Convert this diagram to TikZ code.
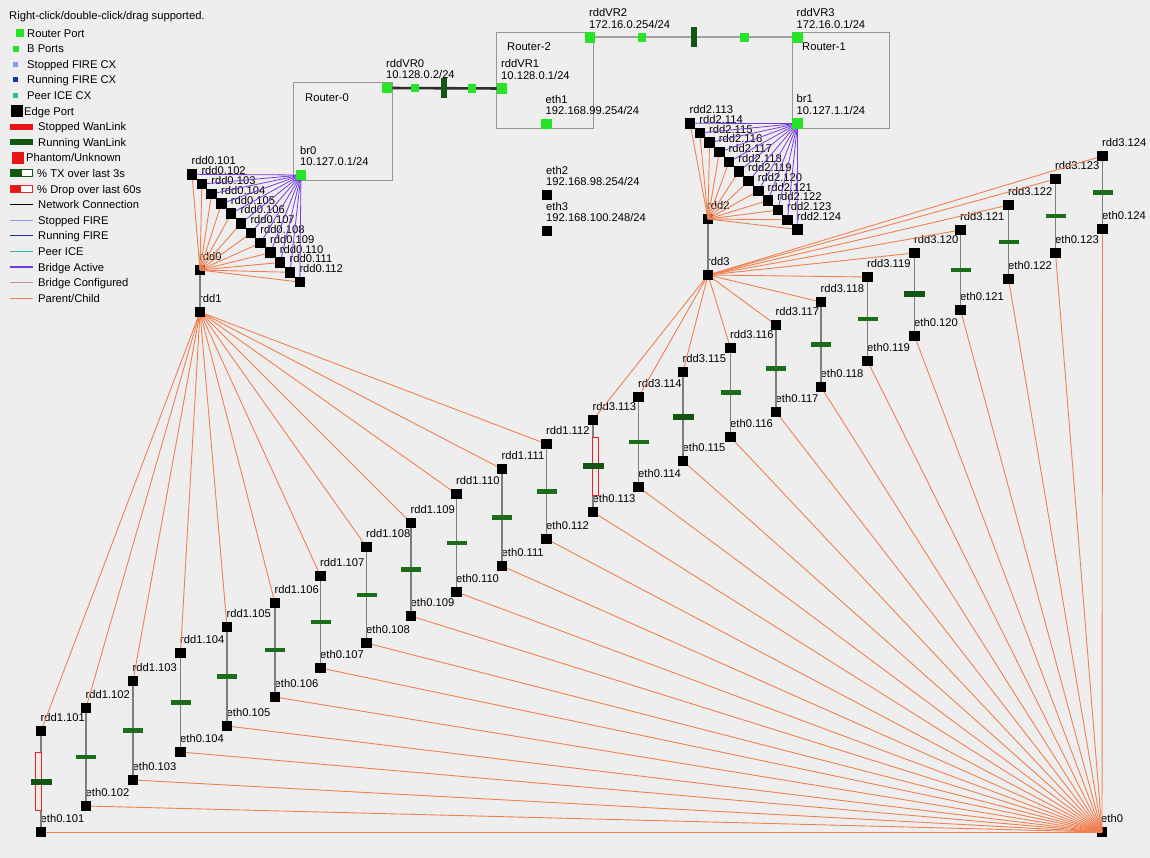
\documentclass[tikz,border=0pt]{standalone}
\usepackage{fontspec}
\setmainfont{Liberation Sans}
\pgfdeclarelayer{bottom}
\pgfdeclarelayer{lines}
\pgfsetlayers{bottom,lines,main}
\definecolor{bgc}{RGB}{238,238,238}
\definecolor{rportc}{RGB}{40,228,40}
\definecolor{wgreen}{RGB}{28,108,28}
\definecolor{wgreend}{RGB}{20,85,20}
\definecolor{pcorange}{RGB}{240,128,80}
\definecolor{bridgeP}{RGB}{115,60,225}
\definecolor{boxgray}{RGB}{150,150,150}
\definecolor{linkgray}{RGB}{125,125,125}
\definecolor{dropred}{RGB}{220,40,40}
\definecolor{stopfire}{RGB}{130,160,235}
\definecolor{runfire}{RGB}{20,50,170}
\definecolor{peerice}{RGB}{40,190,160}
\definecolor{bridgeC}{RGB}{200,140,170}
\definecolor{stopwan}{RGB}{235,20,20}
\newcommand\twolbl[5]{\node[lbl] (#1a) at (#2-1,#3-20.8) {#4}; \node[lbl] (#1b) at (#2-1,#3-9.3) {#5};}
\begin{document}
\begin{tikzpicture}[x=1pt,y=-1pt,
  font=\fontsize{11.2}{13}\selectfont,
  edge/.style={fill=black,inner sep=0,minimum size=10.5pt},
  rport/.style={fill=rportc,inner sep=0,minimum size=10.5pt},
  bport/.style={fill=rportc,inner sep=0,minimum size=8.5pt},
  lbl/.style={anchor=base west,inner sep=0},
  wbar/.style={fill=wgreen,inner sep=0,minimum width=20pt,minimum height=4.5pt},
  wbarthick/.style={fill=wgreend,inner sep=0,minimum width=21pt,minimum height=6pt},
  wbarv/.style={fill=wgreend,inner sep=0,minimum width=5.5pt,minimum height=20pt},
  droprect/.style={draw=dropred,fill={rgb,255:red,246;green,232;blue,232},line width=0.8pt,inner sep=0,minimum width=6pt,minimum height=58pt},
  pc/.style={draw=pcorange,line width=0.9pt},
  bra/.style={draw=bridgeP,line width=0.8pt},
  netc/.style={draw=linkgray,line width=1.5pt},
  rbox/.style={draw=boxgray,line width=1.4pt,inner sep=0,anchor=north west},
]
\useasboundingbox (0,0) rectangle (1150,858);
\begin{pgfonlayer}{bottom}
\fill[bgc] (0,0) rectangle (1150,858);
% legend
\node[lbl] (lgtitle) at (9,20) {Right-click/double-click/drag supported.};
\node[fill=rportc,inner sep=0,minimum size=8.5pt] (lgs0) at (19.8,33) {};
\node[lbl] (lgt0) at (27,37.1) {Router Port};
\node[fill=rportc,inner sep=0,minimum size=6pt] (lgs1) at (15.5,48.6) {};
\node[lbl] (lgt1) at (27,52.7) {B Ports};
\node[fill=stopfire,inner sep=0,minimum size=5pt] (lgs2) at (15.5,64.2) {};
\node[lbl] (lgt2) at (27,68.3) {Stopped FIRE CX};
\node[fill=runfire,inner sep=0,minimum size=5pt] (lgs3) at (15.5,79.8) {};
\node[lbl] (lgt3) at (27,83.9) {Running FIRE CX};
\node[fill=peerice,inner sep=0,minimum size=5.5pt] (lgs4) at (15.5,95.4) {};
\node[lbl] (lgt4) at (27,99.5) {Peer ICE CX};
\node[fill=black,inner sep=0,minimum size=12pt] (lgs5) at (17,111) {};
\node[lbl] (lgt5) at (24,115.1) {Edge Port};
\node[fill=stopwan,inner sep=0,minimum width=23pt,minimum height=6pt] (lgs6) at (21.5,126.6) {};
\node[lbl] (lgt6) at (38,130.7) {Stopped WanLink};
\node[fill=wgreend,inner sep=0,minimum width=23pt,minimum height=6pt] (lgs7) at (21.5,142.2) {};
\node[lbl] (lgt7) at (38,146.3) {Running WanLink};
\node[fill=stopwan,inner sep=0,minimum size=12pt] (lgs8) at (17.5,157.8) {};
\node[lbl] (lgt8) at (26,161.9) {Phantom/Unknown};
\node[draw=wgreend,fill=white,line width=0.8pt,inner sep=0,minimum width=22pt,minimum height=7pt] (lgs9) at (21.5,173.4) {};
\fill[wgreend] (10.5,170) rectangle (22,176.8);
\node[lbl] (lgt9) at (37,177.5) {\% TX over last 3s};
\node[draw=dropred,fill=white,line width=0.8pt,inner sep=0,minimum width=22pt,minimum height=7pt] (lgs10) at (21.5,189) {};
\fill[stopwan] (10.5,185.6) rectangle (21,192.4);
\node[lbl] (lgt10) at (37,193.1) {\% Drop over last 60s};
\draw[black,line width=1.2pt] (10,204.6) -- (33,204.6);
\node[lbl] (lgt11) at (38,208.7) {Network Connection};
\draw[stopfire,line width=1.2pt] (10,220.2) -- (33,220.2);
\node[lbl] (lgt12) at (38,224.3) {Stopped FIRE};
\draw[runfire,line width=1.2pt] (10,235.8) -- (33,235.8);
\node[lbl] (lgt13) at (38,239.9) {Running FIRE};
\draw[peerice,line width=1.2pt] (10,251.4) -- (33,251.4);
\node[lbl] (lgt14) at (38,255.5) {Peer ICE};
\draw[bridgeP,line width=1.2pt] (10,267) -- (33,267);
\node[lbl] (lgt15) at (38,271.1) {Bridge Active};
\draw[bridgeC,line width=1.2pt] (10,282.6) -- (33,282.6);
\node[lbl] (lgt16) at (38,286.7) {Bridge Configured};
\draw[pcorange,line width=1.2pt] (10,298.2) -- (33,298.2);
\node[lbl] (lgt17) at (38,302.3) {Parent/Child};
% router boxes
\node[rbox,minimum width=99pt,minimum height=98pt] (R0) at (293,82) {};
\node[rbox,minimum width=97pt,minimum height=96pt] (R2) at (496,32) {};
\node[rbox,minimum width=97pt,minimum height=96pt] (R1) at (792,32) {};
\node[lbl] (R0l) at (305,102) {Router-0};
\node[lbl] (R2l) at (507,51) {Router-2};
\node[lbl] (R1l) at (802,51) {Router-1};
% port labels
\twolbl{rddVR0}{387}{88}{rddVR0}{10.128.0.2/24}
\twolbl{br0}{301}{175}{br0}{10.127.0.1/24}
\twolbl{rddVR1}{502}{88.5}{rddVR1}{10.128.0.1/24}
\twolbl{eth1}{546.5}{124}{eth1}{192.168.99.254/24}
\twolbl{rddVR2}{590}{37.5}{rddVR2}{172.16.0.254/24}
\twolbl{rddVR3}{797.5}{37.5}{rddVR3}{172.16.0.1/24}
\twolbl{br1}{797.5}{123.5}{br1}{10.127.1.1/24}
\twolbl{eth2}{547}{195}{eth2}{192.168.98.254/24}
\twolbl{eth3}{547}{231}{eth3}{192.168.100.248/24}
% hubs under their fan lines
\node[edge] (rdd0) at (200,270) {};
\node[edge] (rdd2) at (708,219) {};
\node[edge] (eth0) at (1102,832) {};
\node[lbl] (lrdd0) at (199,260.7) {rdd0};
\node[lbl] (lrdd1) at (199,302.7) {rdd1};
\node[lbl] (lrdd2) at (707,209.7) {rdd2};
\node[lbl] (lrdd3) at (707,265.7) {rdd3};
\node[lbl] (leth0) at (1101,822.7) {eth0};
\end{pgfonlayer}

% ports
\node[rport] (rddVR0) at (387,88) {};
\node[rport] (br0) at (301,175) {};
\node[rport] (rddVR1) at (502,88.5) {};
\node[rport] (eth1) at (546.5,124) {};
\node[rport] (rddVR2) at (590,37.5) {};
\node[rport] (rddVR3) at (797.5,37.5) {};
\node[rport] (br1) at (797.5,123.5) {};
\node[edge] (eth2) at (547,195) {};
\node[edge] (eth3) at (547,231) {};
\node[edge] (rdd1) at (200,312) {};
\node[edge] (rdd3) at (708,275) {};

% bridge fans
\foreach \k in {0,...,11}{
  \pgfmathtruncatemacro{\n}{101+\k}
  \pgfmathsetmacro{\fx}{192+9.8*\k}
  \pgfmathsetmacro{\fy}{174.3+9.8*\k}
  \node[edge] (f\n) at (\fx,\fy) {};
  \begin{pgfonlayer}{bottom}\node[lbl] (lf\n) at (\fx-0.5,\fy-9.3) {rdd0.\n};\end{pgfonlayer}
  \pgfmathtruncatemacro{\m}{113+\k}
  \pgfmathsetmacro{\gx}{690+9.75*\k}
  \pgfmathsetmacro{\gy}{123.3+9.65*\k}
  \node[edge] (g\m) at (\gx,\gy) {};
  \begin{pgfonlayer}{bottom}\node[lbl] (lg\m) at (\gx-0.5,\gy-9.3) {rdd2.\m};\end{pgfonlayer}
}

% pairs
\foreach \i/\x/\ry/\ey/\bs in {101/41/731/832/wbarthick,102/86/708/806/wbar,103/133/681/780/wbar,
  104/180.5/653/752/wbar,105/227/627/726/wbar,106/275/603/697/wbar,107/320.5/576/668/wbar,
  108/366.5/547/643/wbar,109/411/523/616/wbar,110/456.5/494/592/wbar,111/502/469/566/wbar,
  112/546.5/444/539/wbar,113/593/420/512/wbarthick,114/638.5/397/487/wbar,115/683/372/461/wbarthick,
  116/730.5/348/437/wbar,117/776/325/412/wbar,118/821/302/387/wbar,119/867.5/277/361/wbar,
  120/914.5/253/336/wbarthick,121/960.5/230/310/wbar,122/1008.5/205/279/wbar,123/1055.5/179/253/wbar,
  124/1102.5/156/229/wbar}{
  \node[edge] (r\i) at (\x,\ry) {};
  \node[edge] (e\i) at (\x,\ey) {};
  \begin{pgfonlayer}{bottom}
  \node[lbl] (lr\i) at (\x-0.5,\ry-9.3) {\ifnum\i<113 rdd1\else rdd3\fi.\i};
  \node[lbl] (le\i) at (\x-0.5,\ey-9.3) {eth0.\i};
  \end{pgfonlayer}
  \begin{pgfonlayer}{lines}
  \draw[netc] (r\i) -- (e\i);
  \end{pgfonlayer}
  \ifnum\i=101 \path (r\i) -- node[droprect,midway,xshift=-2.5pt] (d\i) {} (e\i);\fi
  \ifnum\i=113 \path (r\i) -- node[droprect,midway,xshift=2.5pt] (d\i) {} (e\i);\fi
  \path (r\i) -- node[\bs,midway] (b\i) {} (e\i);
}

\begin{pgfonlayer}{lines}
\draw[line width=2.6pt,draw={rgb,255:red,45;green,45;blue,45}] (rddVR0) -- (rddVR1);
\draw[line width=2pt,draw={rgb,255:red,160;green,160;blue,160}] (rddVR2) -- (rddVR3);
\draw[netc] (rdd0) -- (rdd1);
\draw[netc] (rdd2) -- (rdd3);
\foreach \n in {101,...,112}{
  \draw[pc] (rdd0.center) -- (f\n.center);
  \draw[pc] (rdd1.center) -- (r\n.center);
}
\foreach \m in {113,...,124}{
  \draw[pc] (rdd2.center) -- (g\m.center);
  \draw[pc] (rdd3.center) -- (r\m.center);
}
\foreach \i in {101,...,124}{
  \draw[pc] (eth0.center) -- (e\i.center);
}
\foreach \n in {101,...,112}{ \draw[bra] (br0.center) -- (f\n.center); }
\foreach \m in {113,...,124}{ \draw[bra] (br1.center) -- (g\m.center); }
\end{pgfonlayer}

% link decorations
\path (rddVR0.center) -- node[bport,pos=0.245] (bpa) {} node[wbarv,pos=0.497] (wba) {} node[bport,pos=0.74] (bpb) {} (rddVR1.center);
\path (rddVR2.center) -- node[bport,pos=0.25] (bpc) {} node[wbarv,pos=0.5] (wbb) {} node[bport,pos=0.745] (bpd) {} (rddVR3.center);
\end{tikzpicture}
\end{document}
